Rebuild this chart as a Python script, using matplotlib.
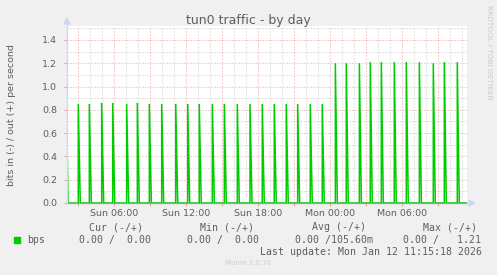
import matplotlib
matplotlib.use("Agg")
import matplotlib.pyplot as plt
from matplotlib.ticker import FixedLocator, FuncFormatter, MultipleLocator
from matplotlib.patches import Rectangle

# ---------------- data ----------------
title = "tun0 traffic - by day"
ylabel = "bits in (-) / out (+) per second"
# time window, hours since Sun 00:00
t_start = 2.06
t_end = 35.39
# spike times (hours since Sun 00:00) and peak values (bps, out direction)
spike_times = [3.0, 3.92, 4.95, 5.87, 7.03, 7.92, 8.92, 9.95, 11.12, 12.12,
               13.08, 14.17, 15.17, 16.25, 17.31, 18.33, 19.33, 20.33, 21.28,
               22.33, 23.33, 24.42, 25.33, 26.42, 27.33, 28.25, 29.33, 30.33,
               31.42, 32.58, 33.5, 34.58]
spike_peaks = [0.85, 0.85, 0.86, 0.86, 0.85, 0.86, 0.85, 0.85, 0.85, 0.85,
               0.85, 0.85, 0.85, 0.85, 0.85, 0.85, 0.85, 0.85, 0.85,
               0.85, 0.85, 1.20, 1.20, 1.20, 1.21, 1.21, 1.21, 1.21,
               1.21, 1.20, 1.21, 1.21]
initial_value = 0.6          # value at window start (tail of earlier spike)
step = 1 / 12                # 5-minute sample step in hours
y_ticks = [0.0, 0.2, 0.4, 0.6, 0.8, 1.0, 1.2, 1.4]
day_names = ["Sun", "Mon"]

series_name = "bps"
col_headers = ["Cur (-/+)", "Min (-/+)", "Avg (-/+)", "Max (-/+)"]
col_values = ["0.00 /  0.00", "0.00 /  0.00", "0.00 /105.60m", "0.00 /   1.21"]
last_update = "Last update: Mon Jan 12 11:15:18 2026"
munin_version = "Munin 2.0.76"
rrd_credit = "RRDTOOL / TOBI OETIKER"

# ---------------- style ----------------
W, H = 497, 275
BG = "#F0F0F0"
FONT = "#5e5e5e"
GREEN = "#00CC00"
AXIS = "#CFD6F8"
MGRID = "#e8a0a0"
GRID = "#c8c8c8"
MONO = "DejaVu Sans Mono"

fig = plt.figure(figsize=(W / 100, H / 100), dpi=100, facecolor=BG)

def fx(x):
    return x / W

def fy(y):
    return 1 - y / H

L, R, T, B = 67, 467, 26, 203
ax = fig.add_axes([fx(L), fy(B), (R - L) / W, (B - T) / H])
ax.set_facecolor("white")
ax.set_xlim(t_start, t_end)
ax.set_ylim(0, 1.52)
for s in ax.spines.values():
    s.set_visible(False)

# grid
ax.yaxis.set_major_locator(FixedLocator(y_ticks))
ax.yaxis.set_minor_locator(MultipleLocator(0.1))
ax.xaxis.set_major_locator(MultipleLocator(3))
ax.xaxis.set_minor_locator(MultipleLocator(1))
ax.grid(which="minor", color=GRID, linestyle=(0, (1, 2)), linewidth=0.72, zorder=0)
ax.grid(which="major", color=MGRID, linestyle=(0, (1, 2)), linewidth=0.72, zorder=0)
ax.set_axisbelow(True)

def xfmt(v, pos):
    h = int(round(v))
    if h % 6 != 0:
        return ""
    return f"{day_names[h // 24]} {h % 24:02d}:00"

ax.xaxis.set_major_formatter(FuncFormatter(xfmt))
ax.yaxis.set_major_formatter(FuncFormatter(lambda v, p: f"{v:.1f}"))
ax.tick_params(axis="x", which="major", length=2, width=0.72, color=MGRID,
               labelsize=6.8, labelcolor=FONT, pad=2)
ax.tick_params(axis="y", which="major", length=2, width=0.72, color=MGRID,
               labelsize=6.8, labelcolor=FONT, pad=5)
ax.tick_params(which="minor", length=0)

# series
xs = [t_start, t_start + step]
ys = [initial_value, 0.0]
for t, p in zip(spike_times, spike_peaks):
    xs += [t, t, t + 2 * step]
    ys += [0.0, p, 0.0]
xs.append(t_end)
ys.append(0.0)
ax.plot(xs, ys, color=GREEN, linewidth=1.1, solid_joinstyle="miter", zorder=3,
        clip_on=True)

# axes lines with arrows (figure pixels)
ax.plot([t_start, t_end], [0, 0], color="#9a9aa8", linewidth=0.9, zorder=4, clip_on=False)
fig.add_artist(plt.Line2D([fx(L), fx(L)], [fy(B + 1), fy(24)], color=AXIS, linewidth=0.9))
fig.add_artist(plt.Polygon([[fx(L - 3), fy(24)], [fx(L + 3), fy(24)], [fx(L), fy(18)]],
                           closed=True, color=AXIS, transform=fig.transFigure))
fig.add_artist(plt.Line2D([fx(R), fx(R + 3)], [fy(B), fy(B)], color=AXIS, linewidth=0.9))
fig.add_artist(plt.Polygon([[fx(R + 2), fy(B - 3)], [fx(R + 2), fy(B + 3)], [fx(R + 8), fy(B)]],
                           closed=True, color=AXIS, transform=fig.transFigure))

# titles
fig.text(fx(248.5), fy(24), title, ha="center", va="baseline", fontsize=9.0, color=FONT)
fig.text(fx(12), fy(115), ylabel, rotation=90, ha="center", va="center",
         fontsize=6.8, color=FONT)
fig.text(fx(489), fy(52), rrd_credit, rotation=270, ha="center", va="center",
         fontsize=5.3, color="#cacaca")

# legend
header_x = [89, 200, 312, 423]
value_x = [79, 187, 295, 403]
for hx, h in zip(header_x, col_headers):
    fig.text(fx(hx), fy(227), h, ha="left", va="center", fontsize=7.1,
             family=MONO, color=FONT)
fig.add_artist(Rectangle((fx(14), fy(242.7)), fx(5.7), 5.4 / H, color=GREEN,
                         transform=fig.transFigure))
fig.text(fx(27), fy(240), series_name, ha="left", va="center", fontsize=7.1,
         family=MONO, color=FONT)
for vx, v in zip(value_x, col_values):
    fig.text(fx(vx), fy(240), v, ha="left", va="center", fontsize=7.1,
             family=MONO, color=FONT)
fig.text(fx(482), fy(252), last_update, ha="right", va="center", fontsize=7.1,
         family=MONO, color=FONT)
fig.text(fx(248), fy(263), munin_version, ha="center", va="center", fontsize=5.0,
         color="#cccccc")

fig.savefig("out.png", dpi=100, facecolor=BG)
